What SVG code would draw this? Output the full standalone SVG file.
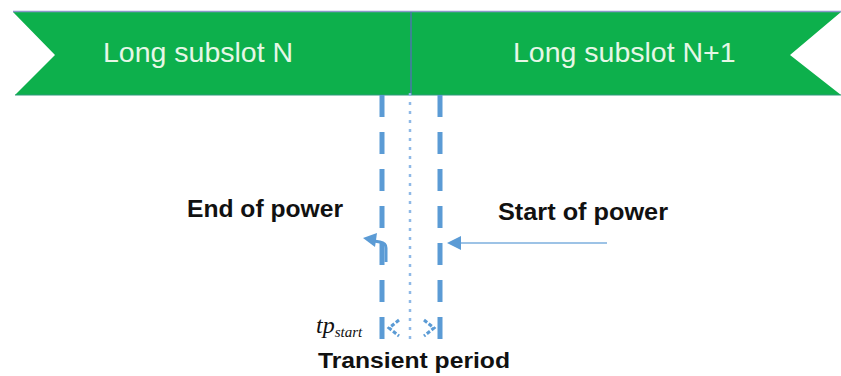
<svg xmlns="http://www.w3.org/2000/svg" width="841" height="376" viewBox="0 0 841 376">
  <style>
    .slot { fill: #0db04c; }
    .slotText { font-family: "Liberation Sans", Arial, sans-serif; font-size: 28.5px; fill: #e6f7e6; }
    .label { font-family: "Liberation Sans", Arial, sans-serif; font-weight: bold; fill: #111111; }
    .dash { stroke: #5b9bd5; stroke-width: 5; stroke-dasharray: 22 15; fill: none; }
    .dot { stroke: #8fb9e6; stroke-width: 2.5; stroke-dasharray: 3 6; fill: none; }
    .small { stroke: #5b9bd5; stroke-width: 3; stroke-dasharray: 4 2; fill: none; }
    .tp { font-family: "Liberation Serif", "Times New Roman", serif; font-style: italic; fill: #111111; }
  </style>
  <rect width="841" height="376" fill="#ffffff"/>

  <g id="slotN">
    <polygon class="slot" points="13,12 411,12 411,95 15,95 55,55"/>
    <text class="slotText" x="103" y="62">Long subslot N</text>
  </g>
  <g id="slotN1">
    <polygon class="slot" points="411,12 841,12 790,55 841,95 411,95"/>
    <text class="slotText" x="513" y="62">Long subslot N+1</text>
  </g>
  <line x1="13" y1="11.5" x2="841" y2="11.5" stroke="#8b98c9" stroke-width="1.5"/>
  <line x1="15" y1="95" x2="841" y2="95" stroke="#2e9a7a" stroke-width="1"/>

  <g id="connectors">
    <line x1="411" y1="12" x2="411" y2="95" stroke="#4a78a8" stroke-width="1.5"/>
    <line class="dash" x1="382" y1="95" x2="382" y2="340"/>
    <line class="dash" x1="440" y1="95" x2="440" y2="340"/>
    <line class="dot" x1="410" y1="93" x2="410" y2="340"/>
    <!-- start of power arrow -->
    <line x1="607" y1="243" x2="456" y2="243" stroke="#9dc3e6" stroke-width="2"/>
    <polygon points="447,243 461,236 461,250" fill="#5b9bd5"/>
    <!-- end of power arrow -->
    <path d="M386,262 L386,248 Q386,243 380,242 L374,241" stroke="#5b9bd5" stroke-width="3" fill="none"/>
    <polygon points="363,238 377,233 375,247" fill="#5b9bd5"/>
    <!-- transient period arrows -->
    <polyline class="small" points="399,320 389,328 399,336"/>
    <polyline class="small" points="424,320 434,328 424,336"/>
  </g>

  <g id="endPower">
    <text class="label" x="187" y="217" font-size="24" textLength="156" lengthAdjust="spacingAndGlyphs">End of power</text>
  </g>
  <g id="startPower">
    <text class="label" x="498" y="220" font-size="24" textLength="170" lengthAdjust="spacingAndGlyphs">Start of power</text>
  </g>
  <g id="tpStart">
    <text class="tp" x="316" y="333" font-size="24">tp<tspan font-size="15" dy="4">start</tspan></text>
  </g>
  <g id="transient">
    <text class="label" x="318" y="368" font-size="22" textLength="192" lengthAdjust="spacingAndGlyphs">Transient period</text>
  </g>
</svg>
